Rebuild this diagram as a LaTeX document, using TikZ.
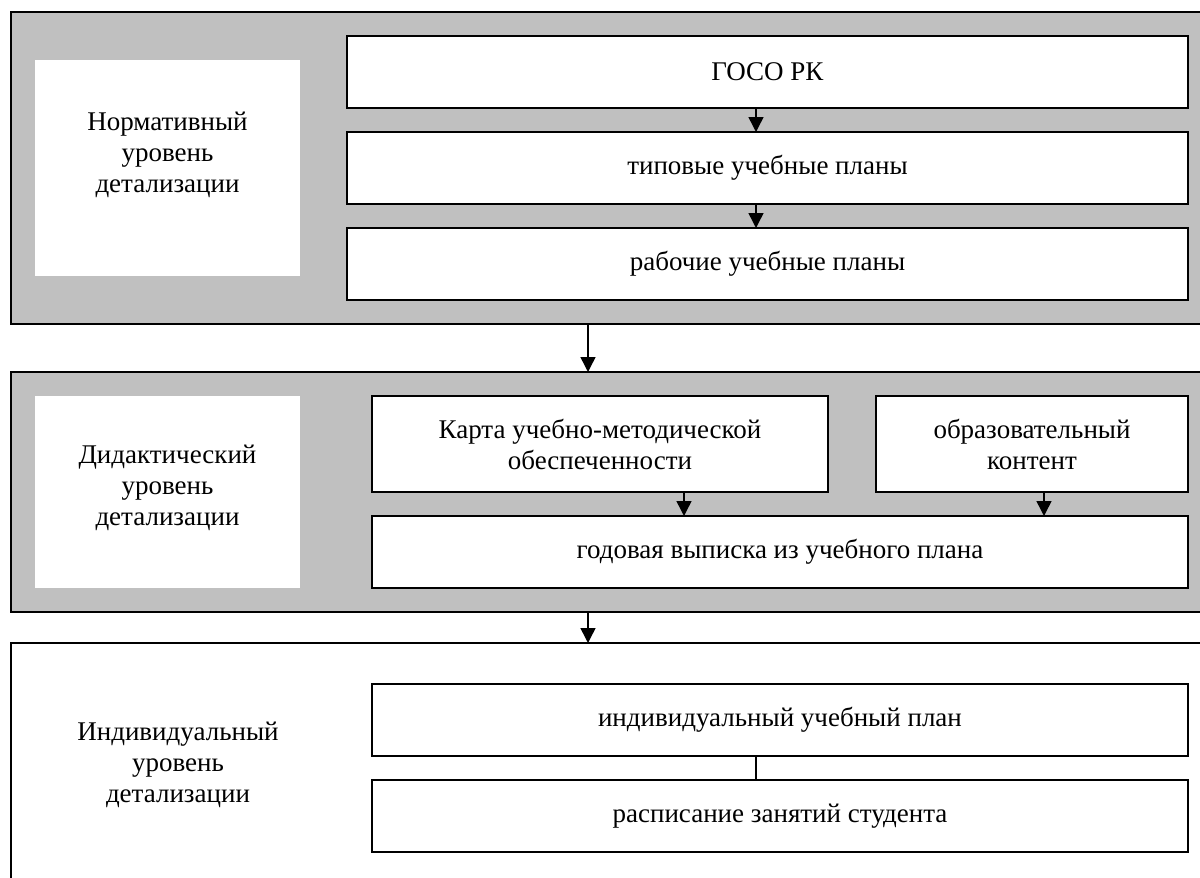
\documentclass[tikz,border=0pt]{standalone}
\usepackage{fontspec}
\setmainfont{Liberation Serif}
\usetikzlibrary{arrows.meta}
\definecolor{panelgray}{RGB}{192,192,192}
\begin{document}
\begin{tikzpicture}[x=1pt,y=-1pt,
  panel/.style={draw, line width=1.5pt, anchor=north west, inner sep=0pt, outer sep=0pt},
  labelbox/.style={fill=white, anchor=north west, inner sep=0pt, outer sep=0pt},
  box/.style={draw, line width=1.5pt, fill=white, anchor=north west, inner sep=0pt, outer sep=0pt,
    align=center, font=\fontsize{27}{31}\selectfont},
  lbl/.style={align=center, font=\fontsize{27}{31}\selectfont, inner sep=0pt},
  arr/.style={-{Triangle[width=15pt,length=15pt]}, line width=1.5pt},
  link/.style={line width=1.5pt}]
\useasboundingbox (0,0) rectangle (1200,878);
\clip (0,0) rectangle (1200,878);
% panels
\node[panel, fill=panelgray, minimum width=1210pt, minimum height=312pt] (p1) at (11,12) {};
\node[panel, fill=panelgray, minimum width=1210pt, minimum height=240pt] (p2) at (11,372) {};
\node[panel, fill=white, minimum width=1210pt, minimum height=260pt] (p3) at (11,643) {};
% label boxes
\node[labelbox, minimum width=265pt, minimum height=216pt] (l1) at (35,60) {};
\node[labelbox, minimum width=265pt, minimum height=192pt] (l2) at (35,396) {};
\node[lbl] (t1) at (167.5,155) {Нормативный\\уровень\\детализации};
\node[lbl] (t2) at (167.5,488) {Дидактический\\уровень\\детализации};
\node[lbl] (t3) at (178,765) {Индивидуальный\\уровень\\детализации};
% panel 1 boxes
\node[box, minimum width=841pt, minimum height=72pt] (gos) at (347,36) {ГОСО РК};
\node[box, minimum width=841pt, minimum height=72pt] (tip) at (347,132) {типовые учебные планы};
\node[box, minimum width=841pt, minimum height=72pt] (rab) at (347,228) {рабочие учебные планы};
% panel 2 boxes
\node[box, minimum width=456pt, minimum height=96pt] (kar) at (372,396) {Карта учебно-методической\\обеспеченности};
\node[box, minimum width=312pt, minimum height=96pt] (obr) at (876,396) {образовательный\\контент};
\node[box, minimum width=816pt, minimum height=72pt] (god) at (372,516) {годовая выписка из учебного плана};
% panel 3 boxes
\node[box, minimum width=816pt, minimum height=72pt] (ind) at (372,684) {индивидуальный учебный план};
\node[box, minimum width=816pt, minimum height=72pt] (ras) at (372,780) {расписание занятий студента};
% connectors
\draw[arr] ([xshift=409pt]gos.south west) -- ([xshift=409pt]tip.north west);
\draw[arr] ([xshift=409pt]tip.south west) -- ([xshift=409pt]rab.north west);
\draw[arr] ([xshift=577pt]p1.south west) -- ([xshift=577pt]p2.north west);
\draw[arr] ([xshift=312pt]kar.south west) -- ([xshift=312pt]god.north west);
\draw[arr] ([xshift=168pt]obr.south west) -- ([xshift=672pt]god.north west);
\draw[arr] ([xshift=577pt]p2.south west) -- ([xshift=577pt]p3.north west);
\draw[link] ([xshift=384pt]ind.south west) -- ([xshift=384pt]ras.north west);
\end{tikzpicture}
\end{document}
